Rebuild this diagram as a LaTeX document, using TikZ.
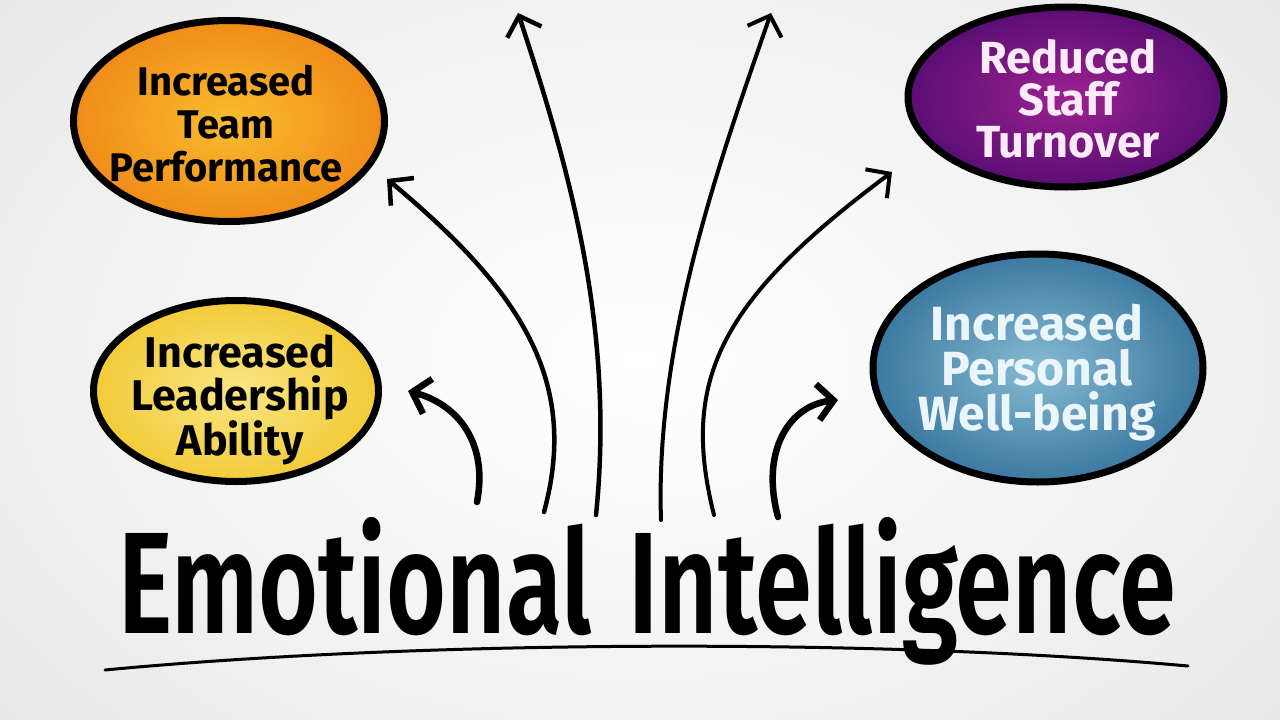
\documentclass[tikz,border=0pt]{standalone}
\usepackage{fontspec}
\setmainfont{Fira Sans}
\newfontfamily\titlefont{Fira Sans SemiBold}
\usetikzlibrary{arrows.meta,shapes.geometric}
\definecolor{bgedge}{HTML}{E9E9E9}
\definecolor{orin}{HTML}{F9BC2E}
\definecolor{orout}{HTML}{F08C18}
\definecolor{yein}{HTML}{FAE685}
\definecolor{yeout}{HTML}{F2CB38}
\definecolor{puin}{HTML}{9C2290}
\definecolor{puout}{HTML}{5A0E74}
\definecolor{blin}{HTML}{86BBD2}
\definecolor{blout}{HTML}{3C78A0}
\definecolor{pinkw}{HTML}{FBEAF8}
\definecolor{bluew}{HTML}{EAF6FC}
\begin{document}
\begin{tikzpicture}[x=1pt,y=-1pt,
  bubble/.style={ellipse, draw=black, line width=7pt, inner sep=0pt},
  bubtext/.style={align=center, inner sep=0pt, font=\bfseries},
  flow/.style={line width=4.5pt, line cap=round, -{Straight Barb[length=17pt,width=36pt]}},
  curl/.style={line width=6.5pt, line cap=round, -{Straight Barb[length=16pt,width=36pt]}}]
\useasboundingbox (0,0) rectangle (1280,720);
\shade[inner color=white, outer color=bgedge] (-200,-200) rectangle (1480,920);

% bubbles
\node[bubble, inner color=orin, outer color=orout, minimum width=311pt, minimum height=201pt] (team) at (229,121) {};
\node[bubble, inner color=yein, outer color=yeout, minimum width=285pt, minimum height=181pt] (lead) at (236,391) {};
\node[bubble, inner color=puin, outer color=puout, minimum width=316pt, minimum height=180pt] (staff) at (1066,97) {};
\node[bubble, inner color=blin, outer color=blout, minimum width=330pt, minimum height=228pt] (well) at (1038,368) {};

\node[bubtext, font=\fontsize{40}{43}\selectfont\bfseries] (teamtxt) at (226,124) {Increased\\Team\\Performance};
\node[bubtext, font=\fontsize{43}{43}\selectfont\bfseries] (leadtxt) at (240,400) {Increased\\Leadership\\Ability};
\node[bubtext, text=pinkw, font=\fontsize{45}{42}\selectfont\bfseries] (stafftxt) at (1068,99) {Reduced\\Staff\\Turnover};
\node[bubtext, text=bluew, font=\fontsize{48}{45}\selectfont\bfseries] (welltxt) at (1037,373) {Increased\\Personal\\Well-being};

% title
\node[anchor=base west, inner sep=0pt] (title) at (118,633)
  {\resizebox{1057pt}{116pt}{\titlefont Emotional\hspace{0.35em}Intelligence}};
\coordinate (ulA) at (105,670);
\coordinate (ulB) at (1188,666);
\draw[line width=3pt, line cap=round] (ulA) .. controls (420,640) and (880,638) .. (ulB);

% arrows
\coordinate (sA) at (477,502); \coordinate (tA) at (408,391);
\coordinate (sB) at (544,512); \coordinate (tB) at (387,179);
\coordinate (sC) at (596,515); \coordinate (tC) at (518,13);
\coordinate (sD) at (661,520); \coordinate (tD) at (771,13);
\coordinate (sE) at (714,515); \coordinate (tE) at (892,172);
\coordinate (sF) at (778,517); \coordinate (tF) at (838,400);
\draw[curl] (sA) .. controls (488,445) and (460,405) .. (tA);
\draw[flow] (sB) .. controls (580,380) and (520,290) .. (tB);
\draw[flow] (sC) .. controls (615,330) and (570,170) .. (tC);
\draw[flow, line width=4pt] (sD) .. controls (655,340) and (720,160) .. (tD);
\draw[flow, line width=4pt] (sE) .. controls (680,380) and (720,300) .. (tE);
\draw[curl] (sF) .. controls (760,450) and (790,405) .. (tF);
\end{tikzpicture}
\end{document}
